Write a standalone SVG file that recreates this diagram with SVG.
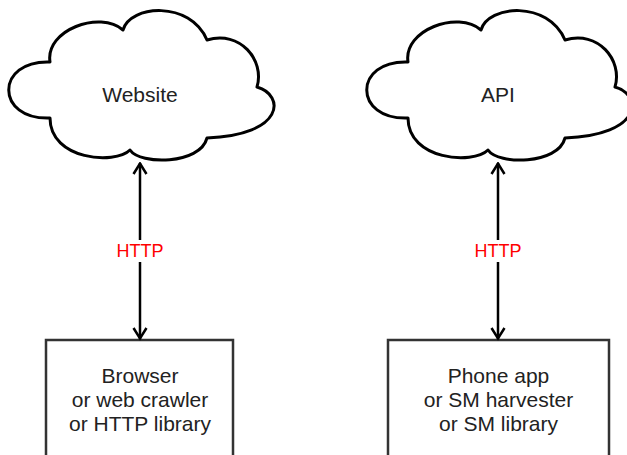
<svg xmlns="http://www.w3.org/2000/svg" width="627" height="455" viewBox="0 0 627 455">
<defs>
<style>
.cloud{fill:#fff;stroke:#000;stroke-width:3;stroke-linejoin:round}
.box{fill:#fff;stroke:#333;stroke-width:2.5}
.lbl{font-family:"Liberation Sans",Arial,sans-serif;font-size:21px;fill:#222;text-anchor:middle}
.http{font-family:"Liberation Sans",Arial,sans-serif;font-size:18px;fill:#ff0000;text-anchor:middle}
.conn{stroke:#000;stroke-width:2.5;fill:none}
</style>
<marker id="arr" viewBox="0 0 14 16" refX="12.5" refY="8" markerWidth="14" markerHeight="16" markerUnits="userSpaceOnUse" orient="auto-start-reverse">
<path d="M1.5 1.5 L12 8 L1.5 14.5" fill="none" stroke="#000" stroke-width="2.5"/>
</marker>
<path id="cloudShape" d="M 50 118 C -5 120, -5 60, 50 62 C 45 30, 100 10, 123 30 C 130 5, 190 0, 207 40 C 240 30, 265 60, 257 87 C 285 95, 285 135, 207 138 C 200 165, 140 165, 130 150 C 115 165, 50 160, 50 118 Z"/>
</defs>
<rect width="627" height="455" fill="#fff"/>
<g id="website">
<use href="#cloudShape" class="cloud"/>
<text class="lbl" x="140" y="102">Website</text>
</g>
<g id="api">
<use href="#cloudShape" class="cloud" transform="translate(358,0)"/>
<text class="lbl" x="498" y="102">API</text>
</g>
<g id="browser">
<rect class="box" x="46" y="340" width="187" height="130"/>
<text class="lbl" x="140" y="383">Browser</text>
<text class="lbl" x="140" y="407">or web crawler</text>
<text class="lbl" x="140" y="431">or HTTP library</text>
</g>
<g id="phone">
<rect class="box" x="388" y="340" width="221" height="130"/>
<text class="lbl" x="498.5" y="383">Phone app</text>
<text class="lbl" x="498.5" y="407">or SM harvester</text>
<text class="lbl" x="498.5" y="431">or SM library</text>
</g>
<g id="connectors">
<line class="conn" x1="140" y1="163" x2="140" y2="339" marker-start="url(#arr)" marker-end="url(#arr)"/>
<rect x="112" y="240" width="56" height="22" fill="#fff"/>
<text class="http" x="140" y="257">HTTP</text>
<line class="conn" x1="498" y1="163" x2="498" y2="339" marker-start="url(#arr)" marker-end="url(#arr)"/>
<rect x="470" y="240" width="56" height="22" fill="#fff"/>
<text class="http" x="498" y="257">HTTP</text>
</g>
</svg>
